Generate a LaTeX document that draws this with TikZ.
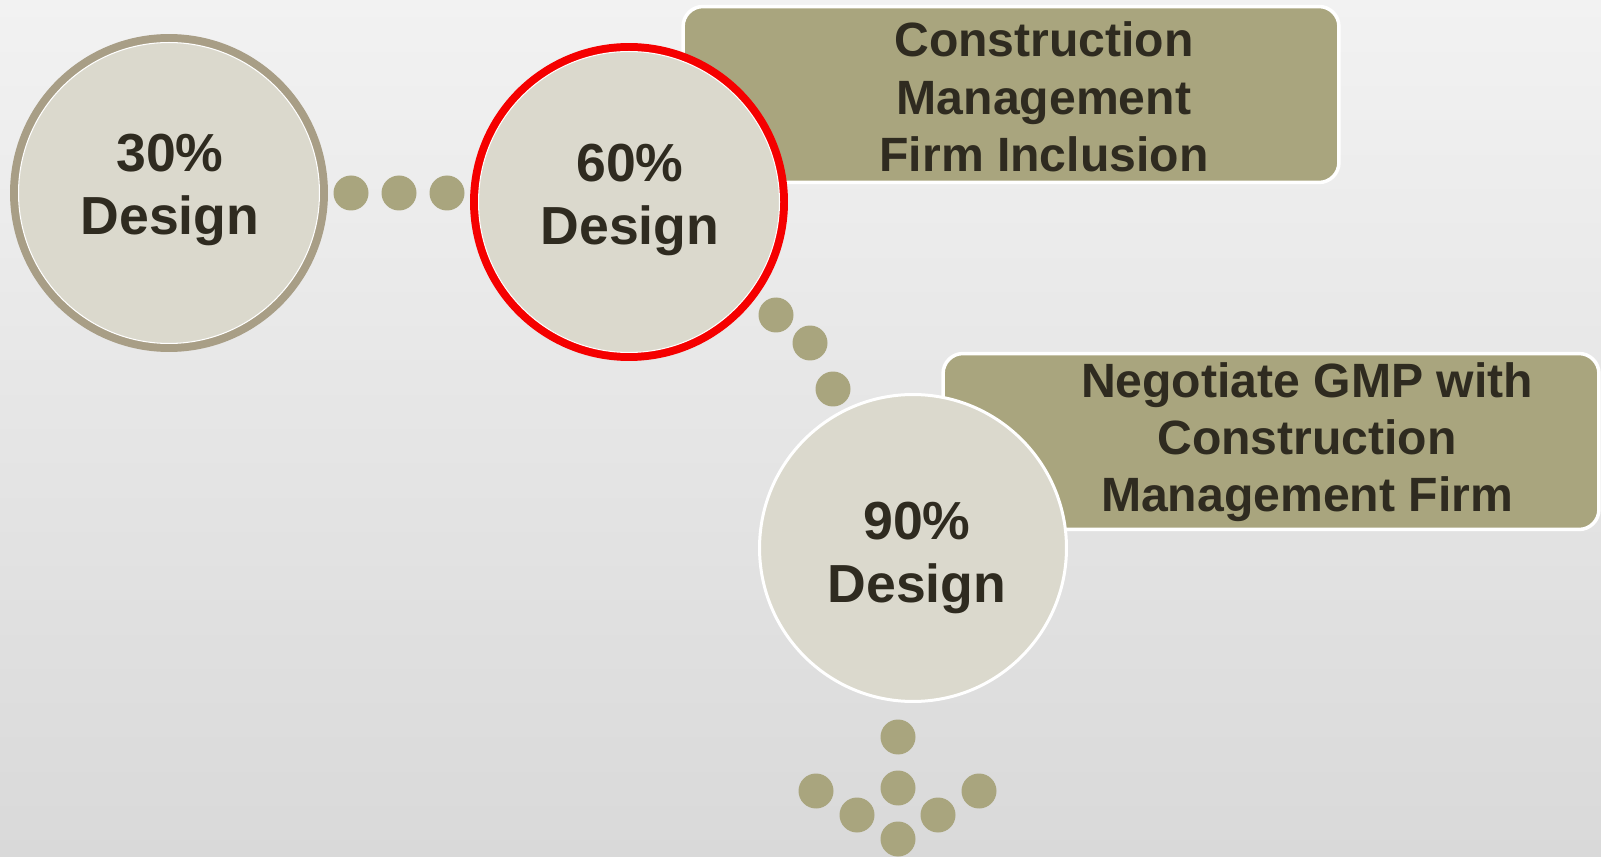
\documentclass[tikz,border=0pt]{standalone}
\usepackage{fontspec}
\setmainfont{Liberation Sans}
\definecolor{olivebox}{HTML}{A9A57E}
\definecolor{discfill}{HTML}{DBD9CD}
\definecolor{tanring}{HTML}{A89E86}
\definecolor{inktext}{HTML}{2F2B20}
\definecolor{bgtop}{HTML}{F2F2F2}
\definecolor{bgbottom}{HTML}{D9D9D9}
\definecolor{ringred}{HTML}{F50000}
\begin{document}
\begin{tikzpicture}[x=0.02cm, y=-0.02cm,
    stage/.style={circle, fill=discfill, inner sep=0pt},
    stagetext/.style={text=inktext, font=\fontsize{30.5}{36}\selectfont\bfseries, align=center},
    panel/.style={rounded corners=0.4cm, fill=olivebox, draw=white, line width=2pt, minimum width=13.12cm, minimum height=3.52cm, inner sep=0pt},
    paneltext/.style={text=inktext, font=\fontsize{27.4}{32.6}\selectfont\bfseries, align=center},
    dot/.style={circle, fill=olivebox, inner sep=0pt, minimum size=0.7cm}]
    \fill[top color=bgtop, bottom color=bgbottom] (0,0) rectangle (1601,857);
    \useasboundingbox (0,0) rectangle (1601,857);

    \node [panel] (P1) at (1011,94.5) {};
    \node [panel] (P2) at (1271,441.5) {};
    \node [paneltext] (T1) at (1044,97) {Construction\\Management\\Firm Inclusion};
    \node [paneltext] (T2) at (1307,442) {Negotiate GMP with\\Construction\\Management Firm};

    \foreach \x/\y [count=\i] in {351/193, 399/193, 447/193, 776/315, 810/343, 833/389,
        898/737, 898/788, 816/791, 979/791, 857/815, 938/815, 898/839}
        \node [dot] (d\i) at (\x,\y) {};

    \node [stage, draw=tanring, line width=0.17cm, minimum size=6.19cm] (S30) at (169,193) {};
    \node [stage, draw=ringred, line width=0.17cm, minimum size=6.19cm] (S60) at (629,202) {};
    \node [stage, draw=white, line width=0.06cm, minimum size=6.14cm] (S90) at (913,548) {};
    \draw [white, line width=0.6pt] (S30.center) circle [radius=3.01cm];
    \draw [white, line width=0.6pt] (S60.center) circle [radius=3.01cm];

    \node [stagetext] (L30) at (170,190) {30\%\\Design};
    \node [stagetext] (L60) at (630,200) {60\%\\Design};
    \node [stagetext] (L90) at (917,558) {90\%\\Design};
\end{tikzpicture}
\end{document}
